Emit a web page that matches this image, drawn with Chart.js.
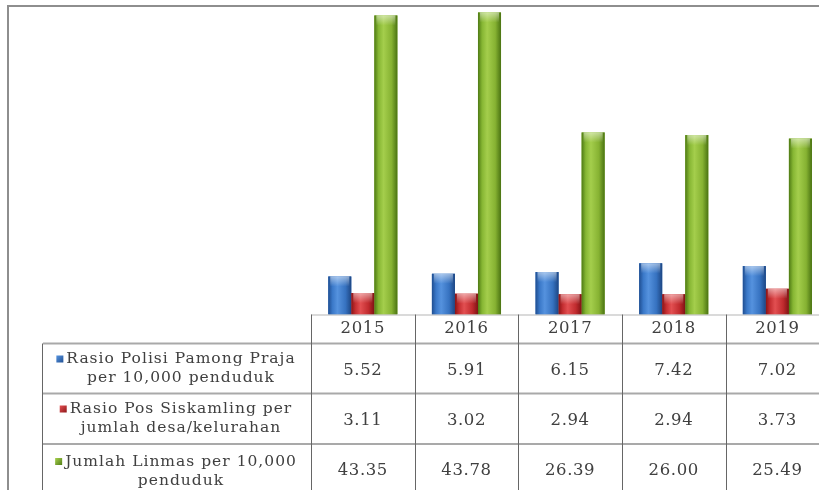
<!DOCTYPE html>
<html><head><meta charset="utf-8">
<script src="https://cdn.jsdelivr.net/npm/chart.js@4.4.1/dist/chart.umd.min.js"></script>
<style>
html,body{margin:0;padding:0;overflow:hidden;background:#fff;width:819px;height:490px;}
#wrap{position:absolute;left:0;top:0;width:840px;height:500px;}
#frame{position:absolute;left:7px;top:5px;width:900px;height:600px;border-left:2px solid #8e8e8e;border-top:2px solid #8e8e8e;pointer-events:none;}
</style></head>
<body>
<div id="wrap"><canvas id="c" width="840" height="500"></canvas></div>
<div id="frame"></div>
<script>
// ---- data ----
const categories = ['2015', '2016', '2017', '2018', '2019'];
const rasioPolisi = [5.52, 5.91, 6.15, 7.42, 7.02];
const rasioPos = [3.11, 3.02, 2.94, 2.94, 3.73];
const jumlahLinmas = [43.35, 43.78, 26.39, 26.00, 25.49];
const labelPolisi = ['Rasio Polisi Pamong Praja', 'per 10,000 penduduk'];
const labelPos = ['Rasio Pos Siskamling per', 'jumlah desa/kelurahan'];
const labelLinmas = ['Jumlah Linmas per 10,000', 'penduduk'];

// ---- styles ----
const palettes = [
  {base:'#3A77C8', stops:['#1F4E91','#3A78C8','#5592DE','#3672C0','#1D4683']},
  {base:'#C93033', stops:['#8A1416','#C42E31','#E24F51','#C02B2E','#7E1214']},
  {base:'#8DBB38', stops:['#4E7A14','#86B633','#A4CE4C','#86B232','#4A7312']}
];
const FONT_LABEL = '15.5px "DejaVu Serif"';
const FONT_NUM = '16.5px "DejaVu Serif"';
const TEXT_COLOR = '#404040';

const tablePlugin = {
  id: 'tablePlugin',
  afterDatasetsDraw(chart) {
    const ctx = chart.ctx;
    chart.data.datasets.forEach((ds, di) => {
      const meta = chart.getDatasetMeta(di);
      const p = palettes[di];
      meta.data.forEach(el => {
        const l = el.x - el.width / 2, r = el.x + el.width / 2;
        const top = el.y, h = el.base - el.y;
        const g = ctx.createLinearGradient(l, 0, r, 0);
        g.addColorStop(0, p.stops[0]);
        g.addColorStop(0.18, p.stops[1]);
        g.addColorStop(0.4, p.stops[2]);
        g.addColorStop(0.75, p.stops[3]);
        g.addColorStop(1, p.stops[4]);
        ctx.save();
        ctx.fillStyle = g;
        ctx.fillRect(l, top, r - l, h);
        const cg = ctx.createLinearGradient(0, top, 0, top + 10);
        cg.addColorStop(0, 'rgba(255,255,255,0.5)');
        cg.addColorStop(1, 'rgba(255,255,255,0)');
        ctx.fillStyle = cg;
        ctx.fillRect(l + 2, top, r - l - 4, Math.min(10, h));
        ctx.restore();
      });
    });
  },
  afterDraw(chart) {
    const ctx = chart.ctx;
    const xs = chart.scales.x;
    const area = chart.chartArea;
    const n = chart.data.labels.length;
    const half = (xs.getPixelForValue(1) - xs.getPixelForValue(0)) / 2;
    const bounds = [];
    for (let i = 0; i <= n; i++) bounds.push(i < n ? xs.getPixelForValue(i) - half : xs.getPixelForValue(n - 1) + half);
    const yBase = area.bottom;
    const rowTops = [343.5, 393.5, 444];
    const rowH = 50;
    const labelLeft = 43;
    const right = chart.width;
    ctx.save();
    ctx.strokeStyle = '#b5b5b5';
    ctx.lineWidth = 1;
    ctx.beginPath(); ctx.moveTo(bounds[0], yBase + 0.5); ctx.lineTo(right, yBase + 0.5); ctx.stroke();
    ctx.strokeStyle = '#a9a9a9';
    ctx.lineWidth = 2;
    rowTops.forEach(y => { ctx.beginPath(); ctx.moveTo(labelLeft, y); ctx.lineTo(right, y); ctx.stroke(); });
    ctx.strokeStyle = '#666';
    ctx.lineWidth = 1;
    bounds.forEach(x => { ctx.beginPath(); ctx.moveTo(Math.round(x) + 0.5, yBase); ctx.lineTo(Math.round(x) + 0.5, 500); ctx.stroke(); });
    ctx.beginPath(); ctx.moveTo(labelLeft - 0.5, rowTops[0]); ctx.lineTo(labelLeft - 0.5, 500); ctx.stroke();

    ctx.fillStyle = TEXT_COLOR;
    ctx.textAlign = 'center';
    ctx.textBaseline = 'middle';
    ctx.font = FONT_NUM;
    ctx.letterSpacing = '0.6px';
    chart.data.labels.forEach((lab, i) => ctx.fillText(lab, xs.getPixelForValue(i), yBase + 14));
    chart.data.datasets.forEach((ds, di) => {
      const cy = rowTops[di] + rowH / 2 + 2;
      ds.data.forEach((v, i) => ctx.fillText(v.toFixed(2), xs.getPixelForValue(i), cy));
    });
    ctx.font = FONT_LABEL;
    ctx.letterSpacing = '1px';
    const textCenter = 181;
    chart.data.datasets.forEach((ds, di) => {
      const lines = ds.rowLabel;
      const cy = rowTops[di] + rowH / 2 + (di === 2 ? 2 : 0);
      const y1 = cy - 9.5, y2 = cy + 9.5;
      ctx.fillStyle = TEXT_COLOR;
      ctx.fillText(lines[0], textCenter, y1);
      ctx.fillText(lines[1], textCenter, y2);
      const w = ctx.measureText(lines[0]).width;
      const kx = textCenter - w / 2 - 10;
      const kg = ctx.createLinearGradient(kx, y1 - 3, kx + 7, y1 + 4);
      kg.addColorStop(0, palettes[di].stops[2]);
      kg.addColorStop(1, palettes[di].stops[0]);
      ctx.fillStyle = kg;
      ctx.fillRect(kx, y1 - 3.5, 7, 7);
    });
    ctx.restore();
  }
};

new Chart(document.getElementById('c'), {
  type: 'bar',
  data: {
    labels: categories,
    datasets: [
      {label: labelPolisi.join(' '), rowLabel: labelPolisi, data: rasioPolisi, backgroundColor: palettes[0].base, borderWidth: 0},
      {label: labelPos.join(' '), rowLabel: labelPos, data: rasioPos, backgroundColor: palettes[1].base, borderWidth: 0},
      {label: labelLinmas.join(' '), rowLabel: labelLinmas, data: jumlahLinmas, backgroundColor: palettes[2].base, borderWidth: 0}
    ]
  },
  options: {
    responsive: false,
    animation: false,
    layout: {padding: {left: 311, right: 10.8, top: 4, bottom: 185.5}},
    datasets: {bar: {categoryPercentage: 0.667, barPercentage: 1.0}},
    scales: {
      x: {display: false},
      y: {display: false, min: 0, max: 45}
    },
    plugins: {legend: {display: false}, tooltip: {enabled: false}, title: {display: false}}
  },
  plugins: [tablePlugin]
});
</script>
</body></html>
